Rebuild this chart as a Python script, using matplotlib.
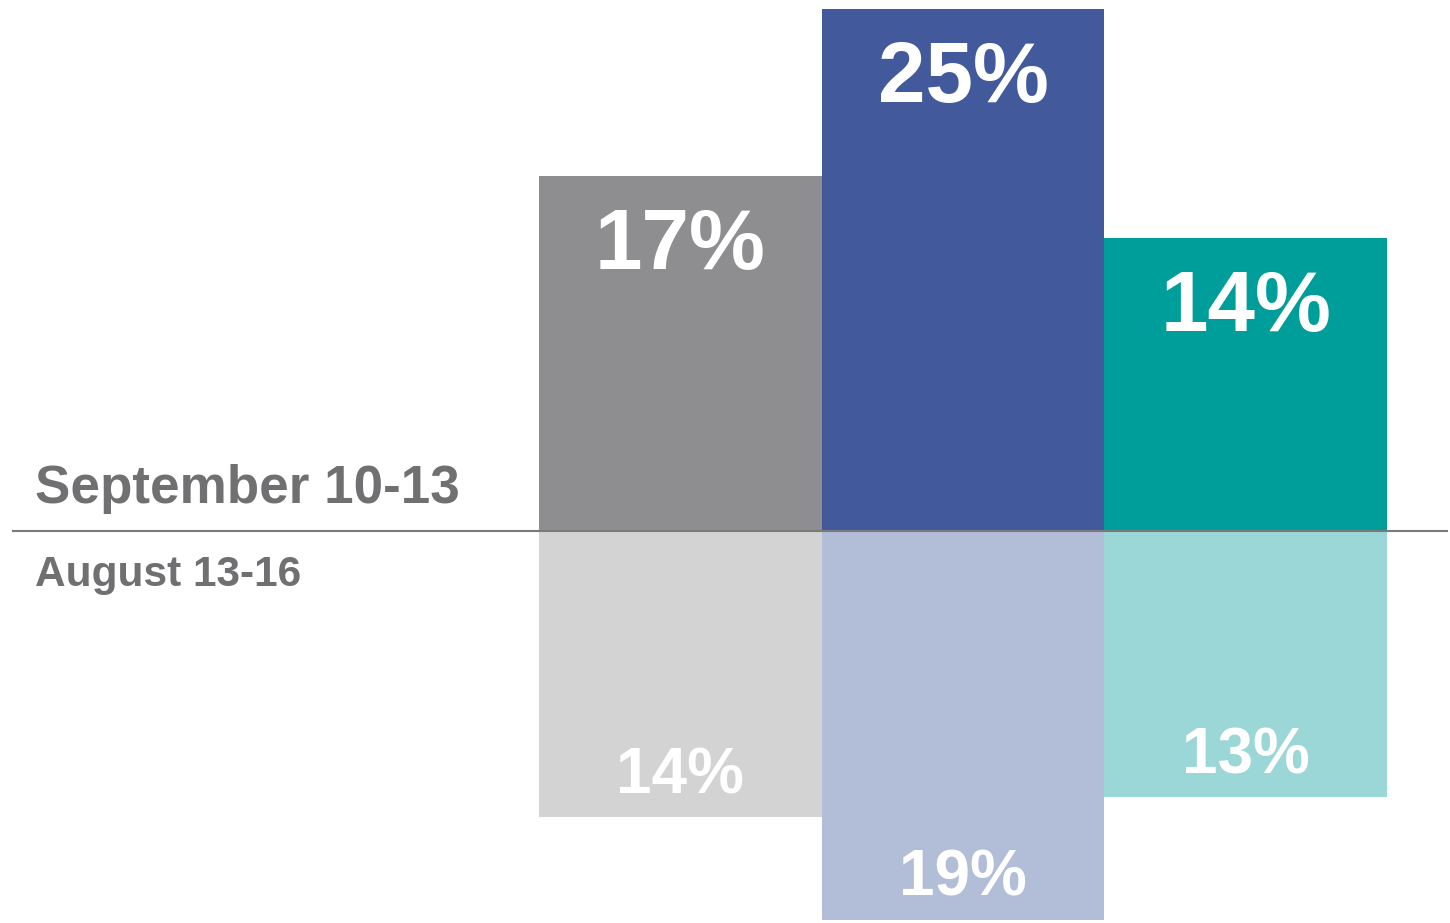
import matplotlib
matplotlib.use("Agg")
import matplotlib.pyplot as plt
from matplotlib.lines import Line2D

plt.rcParams['font.family'] = ['Liberation Sans', 'DejaVu Sans']

groups = ['A', 'B', 'C']
september = [17, 25, 14]
august = [14, 19, 13]
sep_colors = ['#8e8e90', '#425a9b', '#009e9b']
aug_colors = ['#d3d3d3', '#b2bed8', '#9bd7d6']

W, H = 1450, 923
fig = plt.figure(figsize=(W / 100, H / 100), dpi=100)

base = 531  # baseline pixel from top
xl = (-0.5 - 539 / 282.7, 2.5 + (W - 1387) / 282.7)

# upper panel: September
ax_top = fig.add_axes([0, (H - base) / H, 1, base / H])
ax_top.set_xlim(*xl)
ax_top.set_ylim(0, base / 20.9)
x = list(range(len(groups)))
ax_top.bar(x, september, width=1.0, color=sep_colors, align='center')
for xi, v in zip(x, september):
    ax_top.annotate(f"{v}%", (xi, v), xytext=(0, -67), textcoords='offset points',
                    ha='center', va='baseline', color='white', fontsize=61.5,
                    fontweight='bold')
ax_top.axis('off')

# lower panel: August
ax_bot = fig.add_axes([0, 0, 1, (H - base) / H])
ax_bot.set_xlim(*xl)
ax_bot.set_ylim(-(H - base) / 20.45, 0)
ax_bot.bar(x, [-v for v in august], width=1.0, color=aug_colors, align='center')
for xi, v in zip(x, august):
    ax_bot.annotate(f"{v}%", (xi, -v), xytext=(0, 17), textcoords='offset points',
                    ha='center', va='baseline', color='white', fontsize=46,
                    fontweight='bold')
ax_bot.axis('off')

# divider line
fig.add_artist(Line2D([13 / W, 1447 / W], [(H - base) / H] * 2,
                      color='#7a7a7a', linewidth=1.5))

fig.text(35 / W, (H - 503) / H, "September 10-13", color='#707072',
         fontsize=38.2, fontweight='bold', ha='left', va='baseline')
fig.text(35 / W, (H - 586) / H, "August 13-16", color='#707072',
         fontsize=30.5, fontweight='bold', ha='left', va='baseline')

fig.savefig("out.png", dpi=100, facecolor='white')
